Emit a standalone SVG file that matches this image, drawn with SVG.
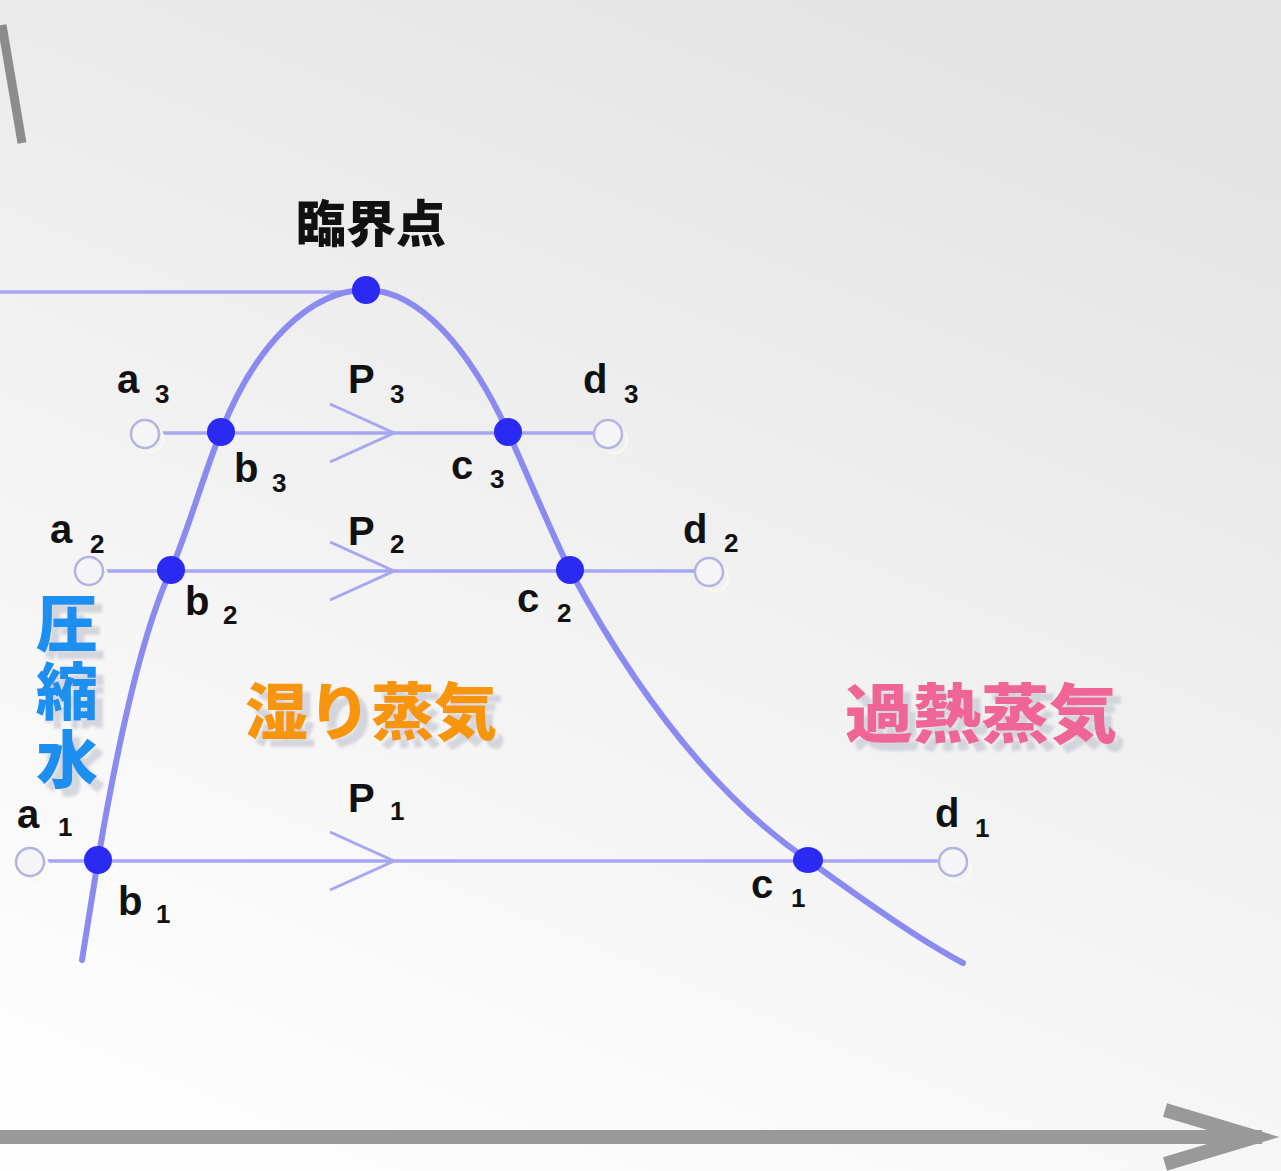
<svg xmlns="http://www.w3.org/2000/svg" width="1281" height="1171" viewBox="0 0 1281 1171">
<defs>
<linearGradient id="bg" x1="0.3" y1="1" x2="0.75" y2="0">
<stop offset="0" stop-color="#fdfdfd"/>
<stop offset="0.5" stop-color="#f1f1f1"/>
<stop offset="1" stop-color="#e3e3e3"/>
</linearGradient>
<filter id="shadow" x="-10%" y="-10%" width="130%" height="140%">
<feDropShadow dx="8" dy="8" stdDeviation="1.5" flood-color="#b8bcc8" flood-opacity="0.55"/>
</filter>
<style>
.lbl{font-family:"Liberation Sans",Arial,sans-serif;font-weight:bold;font-size:40px;fill:#111}
.sub{font-size:26px}
.jp{font-family:"Noto Sans CJK JP","Noto Sans CJK SC",sans-serif;font-weight:900}
.pline{stroke:#a6a6f2;stroke-width:3.5;fill:none}
.chev{stroke:#a6a6f2;stroke-width:3;fill:none}
.dome{stroke:#8a8af0;stroke-width:6;fill:none;stroke-linecap:round}
.dot{fill:#2a2af2}
.open{fill:#f5f5f7;stroke:#b4b4e0;stroke-width:2.5}
.openshadow{fill:none;stroke:#f8f8f0;stroke-width:3}
.axis{stroke:#999;stroke-width:14;fill:none}
</style>
</defs>
<rect width="1281" height="1171" fill="url(#bg)"/>

<g id="axes">
<line x1="2" y1="25" x2="22" y2="143" stroke="#8c8c8c" stroke-width="9"/>
<line class="axis" x1="0" y1="1137" x2="1262" y2="1137"/>
<polyline class="axis" points="1165,1110 1255,1137 1165,1164" stroke-linejoin="miter" stroke-miterlimit="10"/>
</g>

<g id="connectors">
<line class="pline" x1="0" y1="292" x2="366" y2="292"/>
<path class="dome" d="M82,960 L98,860 C125,700 150,615 171,570 C190,525 205,470 221,432 C255,345 310,290 366,290 C420,290 470,350 508,432 C530,480 550,530 570,570 C640,700 720,800 808,860 C870,905 920,940 963,963"/>
<line class="pline" x1="158" y1="433" x2="595" y2="433"/>
<line class="pline" x1="102" y1="571" x2="696" y2="571"/>
<line class="pline" x1="43" y1="861" x2="940" y2="861"/>
<polyline class="chev" points="330,404 394,433 330,462"/>
<polyline class="chev" points="330,542 394,571 330,600"/>
<polyline class="chev" points="330,832 394,861 330,890"/>
</g>

<g id="critical-point">
<circle class="dot" cx="366" cy="290" r="14"/>
<text class="jp" x="371" y="242" font-size="50" text-anchor="middle" fill="#111">臨界点</text>
</g>

<g id="a3"><circle class="openshadow" cx="150" cy="439" r="13"/><circle class="open" cx="145" cy="434" r="14"/><text class="lbl" x="117" y="393">a<tspan class="sub" x="155" y="403">3</tspan></text></g>
<g id="b3"><circle class="dot" cx="221" cy="432" r="14"/><text class="lbl" x="234" y="482">b<tspan class="sub" x="272" y="492">3</tspan></text></g>
<g id="p3"><text class="lbl" x="348" y="393">P<tspan class="sub" x="390" y="403">3</tspan></text></g>
<g id="c3"><circle class="dot" cx="508" cy="432" r="14"/><text class="lbl" x="451" y="479">c<tspan class="sub" x="490" y="488">3</tspan></text></g>
<g id="d3"><circle class="openshadow" cx="614" cy="440" r="13"/><circle class="open" cx="608" cy="434" r="14"/><text class="lbl" x="583" y="393">d<tspan class="sub" x="624" y="403">3</tspan></text></g>

<g id="a2"><circle class="openshadow" cx="94" cy="577" r="13"/><circle class="open" cx="89" cy="571" r="14"/><text class="lbl" x="50" y="543">a<tspan class="sub" x="90" y="553">2</tspan></text></g>
<g id="b2"><circle class="dot" cx="171" cy="570" r="14"/><text class="lbl" x="185" y="615">b<tspan class="sub" x="223" y="624">2</tspan></text></g>
<g id="p2"><text class="lbl" x="348" y="545">P<tspan class="sub" x="390" y="553">2</tspan></text></g>
<g id="c2"><circle class="dot" cx="570" cy="570" r="14"/><text class="lbl" x="517" y="612">c<tspan class="sub" x="557" y="622">2</tspan></text></g>
<g id="d2"><circle class="openshadow" cx="715" cy="578" r="13"/><circle class="open" cx="709" cy="572" r="14"/><text class="lbl" x="683" y="543">d<tspan class="sub" x="724" y="552">2</tspan></text></g>

<g id="a1"><circle class="openshadow" cx="35" cy="867" r="13"/><circle class="open" cx="30" cy="862" r="14"/><text class="lbl" x="17" y="828">a<tspan class="sub" x="58" y="836">1</tspan></text></g>
<g id="b1"><circle class="dot" cx="98" cy="860" r="14"/><text class="lbl" x="118" y="915">b<tspan class="sub" x="156" y="923">1</tspan></text></g>
<g id="p1"><text class="lbl" x="348" y="812">P<tspan class="sub" x="390" y="820">1</tspan></text></g>
<g id="c1"><ellipse class="dot" cx="808" cy="860" rx="15" ry="13"/><text class="lbl" x="751" y="898">c<tspan class="sub" x="791" y="907">1</tspan></text></g>
<g id="d1"><circle class="openshadow" cx="958" cy="868" r="13"/><circle class="open" cx="953" cy="862" r="14"/><text class="lbl" x="935" y="827">d<tspan class="sub" x="975" y="837">1</tspan></text></g>

<g id="compressed-water" filter="url(#shadow)">
<text class="jp" x="67" y="592" font-size="62" fill="#1e8ff0" writing-mode="vertical-rl" letter-spacing="6">圧縮水</text>
</g>

<g id="wet-steam">
<text class="jp" x="245" y="735" font-size="62" fill="#f7950f" textLength="252" lengthAdjust="spacingAndGlyphs" filter="url(#shadow)">湿り蒸気</text>
</g>

<g id="superheated-steam">
<text class="jp" x="845" y="737" font-size="64" fill="#ef6596" textLength="272" lengthAdjust="spacingAndGlyphs" filter="url(#shadow)">過熱蒸気</text>
</g>
</svg>
